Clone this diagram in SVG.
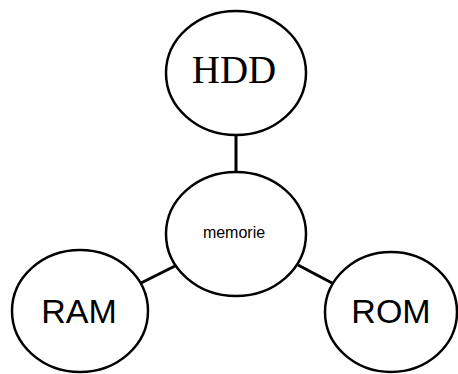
<svg xmlns="http://www.w3.org/2000/svg" width="458" height="374" viewBox="0 0 458 374">
<style>
.n{fill:#fff;stroke:#000;stroke-width:2.5}
.c{stroke:#000;stroke-width:3;fill:none}
.s{font-family:"Liberation Sans",Arial,sans-serif;fill:#000;text-anchor:middle}
</style>
<rect width="458" height="374" fill="#fff"/>
<g id="connectors">
<line class="c" x1="236" y1="135" x2="236" y2="172"/>
<line class="c" x1="141" y1="283" x2="175" y2="266"/>
<line class="c" x1="298" y1="265" x2="332" y2="283"/>
</g>
<g id="hdd">
<ellipse class="n" cx="236" cy="73" rx="70" ry="62"/>
<text x="234" y="83" font-family="Liberation Serif,Times New Roman,serif" font-size="39" text-anchor="middle">HDD</text>
</g>
<g id="memorie">
<ellipse class="n" cx="236" cy="234" rx="70" ry="62"/>
<text class="s" x="234" y="238" font-size="16" fill="#1a1a2e">memorie</text>
</g>
<g id="ram">
<ellipse class="n" cx="80" cy="311" rx="68" ry="61"/>
<text class="s" x="79" y="323" font-size="34">RAM</text>
</g>
<g id="rom">
<ellipse class="n" cx="391" cy="312" rx="66" ry="60"/>
<text class="s" x="391" y="323" font-size="34">ROM</text>
</g>
</svg>
